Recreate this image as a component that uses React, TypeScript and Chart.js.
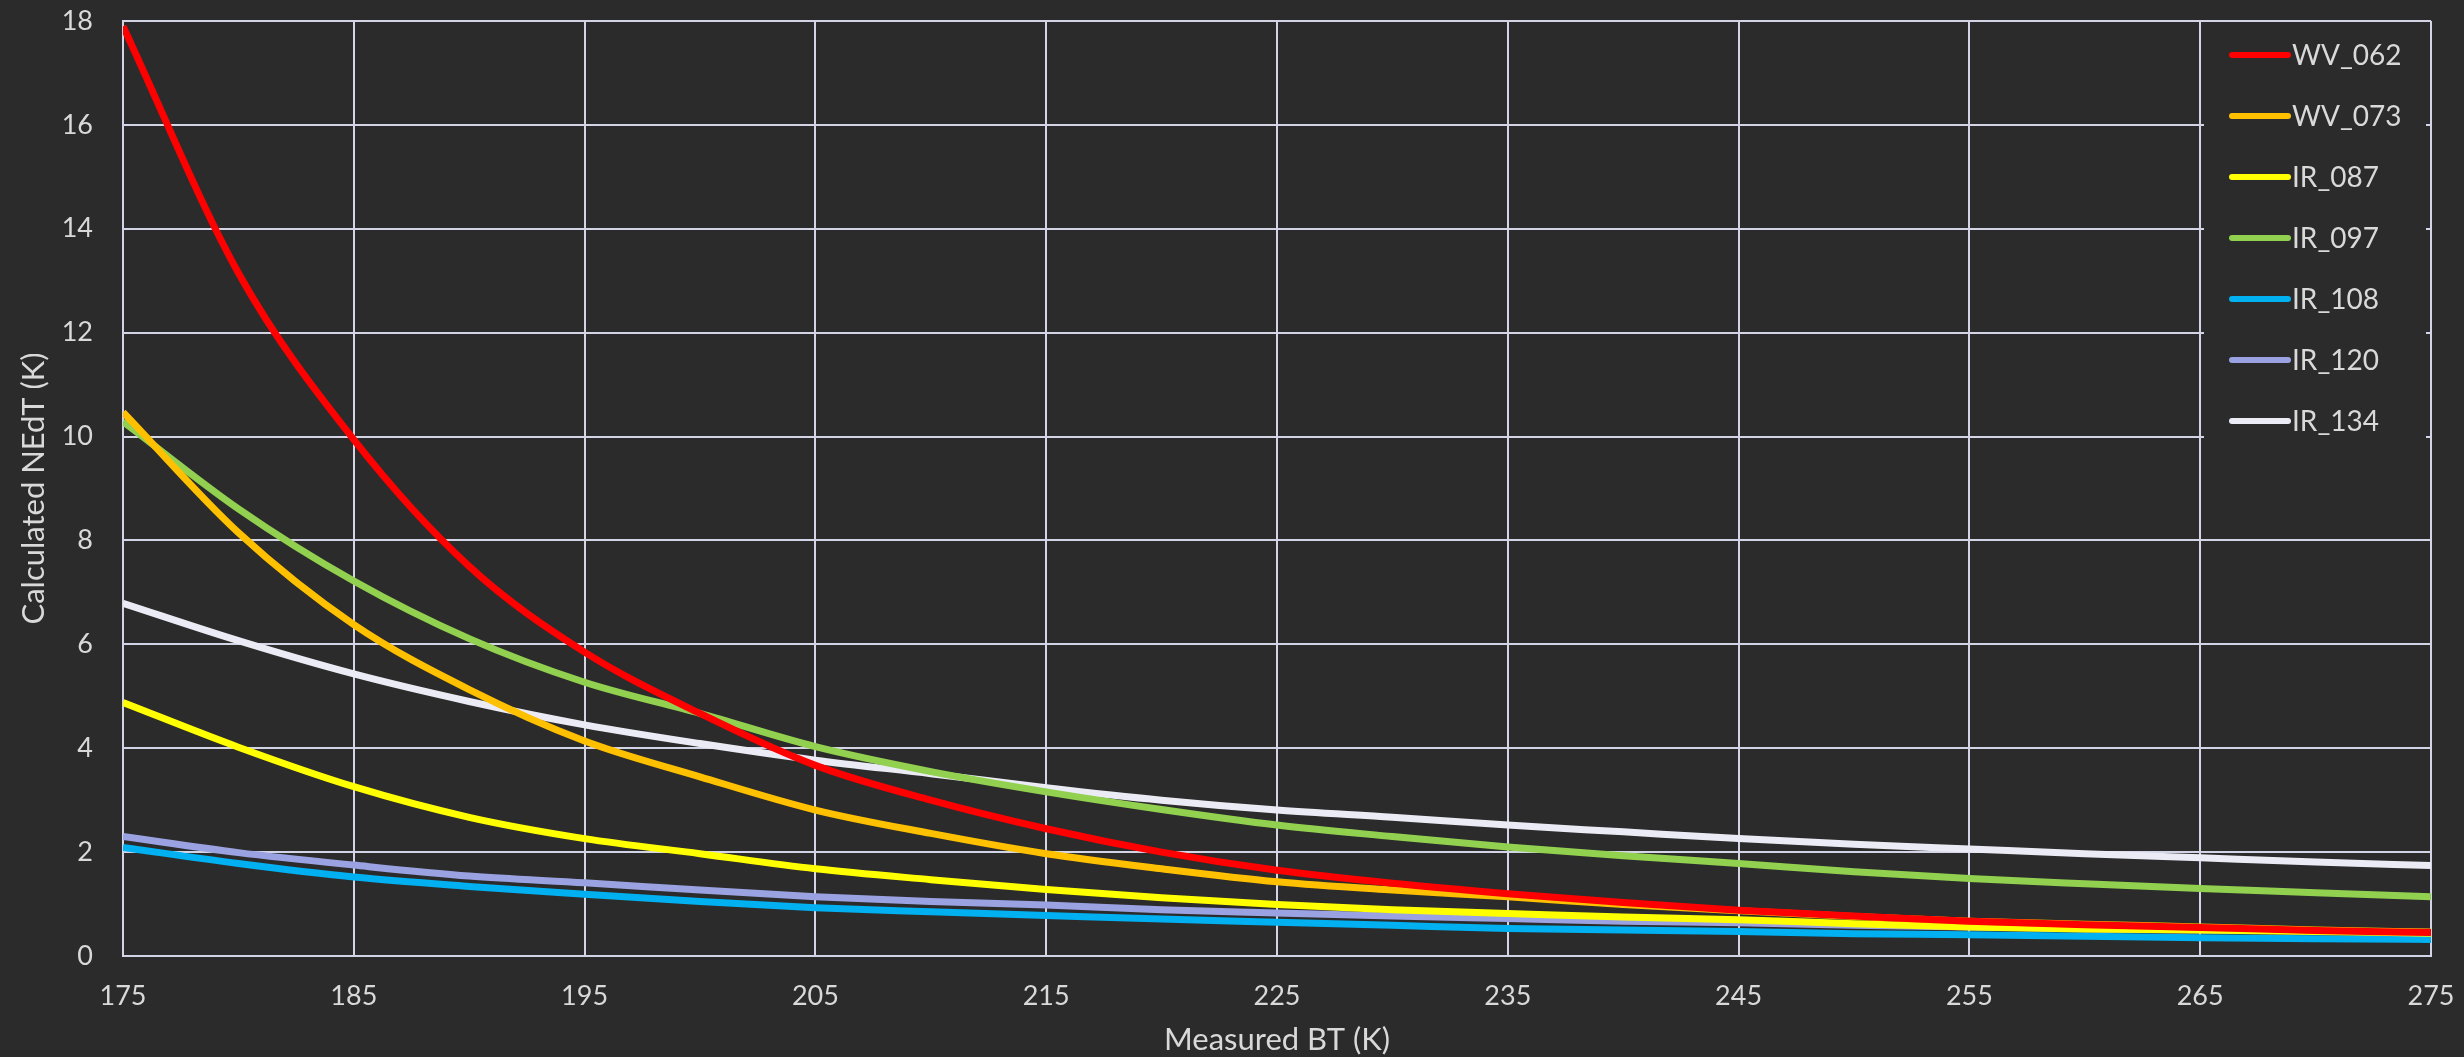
import React, { useEffect, useRef } from "react";
import { Chart, registerables } from "chart.js";

Chart.register(...registerables);

const temps = [175, 180, 185, 190, 195, 200, 205, 210, 215, 220, 225, 230, 235, 240, 245, 250, 255, 260, 265, 270, 275];
const wv062 = [17.9, 13.15, 9.94, 7.5, 5.85, 4.67, 3.67, 3.0, 2.45, 2.0, 1.65, 1.4, 1.2, 1.03, 0.88, 0.77, 0.67, 0.6, 0.55, 0.49, 0.45];
const wv073 = [10.47, 8.15, 6.38, 5.13, 4.14, 3.45, 2.81, 2.36, 1.97, 1.68, 1.43, 1.27, 1.14, 0.99, 0.87, 0.76, 0.67, 0.61, 0.56, 0.5, 0.46];
const ir087 = [4.88, 4.02, 3.26, 2.67, 2.26, 1.97, 1.68, 1.47, 1.28, 1.12, 0.99, 0.89, 0.82, 0.75, 0.7, 0.62, 0.56, 0.52, 0.5, 0.47, 0.44];
const ir097 = [10.29, 8.61, 7.22, 6.11, 5.27, 4.67, 4.03, 3.55, 3.16, 2.82, 2.52, 2.3, 2.1, 1.93, 1.78, 1.62, 1.49, 1.39, 1.3, 1.22, 1.14];
const ir108 = [2.09, 1.78, 1.52, 1.34, 1.19, 1.05, 0.93, 0.85, 0.78, 0.71, 0.65, 0.59, 0.53, 0.5, 0.47, 0.43, 0.41, 0.38, 0.35, 0.33, 0.32];
const ir120 = [2.3, 1.99, 1.75, 1.54, 1.41, 1.27, 1.14, 1.05, 0.98, 0.89, 0.83, 0.77, 0.72, 0.67, 0.64, 0.59, 0.56, 0.52, 0.5, 0.48, 0.45];
const ir134 = [6.79, 6.07, 5.43, 4.9, 4.45, 4.09, 3.77, 3.51, 3.24, 3.0, 2.81, 2.67, 2.52, 2.39, 2.26, 2.15, 2.06, 1.97, 1.89, 1.81, 1.74];

const seriesNames = ["WV_062", "WV_073", "IR_087", "IR_097", "IR_108", "IR_120", "IR_134"];
const seriesValues = [wv062, wv073, ir087, ir097, ir108, ir120, ir134];
const seriesColors = ["#ff0000", "#ffc000", "#ffff00", "#92d050", "#00b0f0", "#9aa2e2", "#ebebf5"];

const xTitle = "Measured BT (K)";
const yTitle = "Calculated NEdT (K)";

const BG = "#2b2b2b";
const GRID = "#d3d5e6";
const TEXT = "#d9d9d9";
const FONT = "Lato";

const legendPlugin = {
  id: "boxLegend",
  afterDraw(chart: any) {
    const ctx = chart.ctx;
    const area = chart.chartArea;
    const boxLeft = area.right - 227;
    const boxRight = area.right - 5;
    const boxTop = area.top + 2;
    const boxBottom = area.top + 440;
    ctx.save();
    ctx.fillStyle = BG;
    ctx.fillRect(boxLeft, boxTop, boxRight - boxLeft, boxBottom - boxTop);
    const datasets = chart.data.datasets;
    for (let i = 0; i < datasets.length; i++) {
      const y = area.top + 34 + i * 61;
      ctx.strokeStyle = datasets[i].borderColor;
      ctx.lineWidth = 6;
      ctx.lineCap = "round";
      ctx.beginPath();
      ctx.moveTo(area.right - 199, y);
      ctx.lineTo(area.right - 143, y);
      ctx.stroke();
      ctx.fillStyle = TEXT;
      ctx.font = `28px ${FONT}`;
      ctx.textAlign = "left";
      ctx.textBaseline = "middle";
      ctx.fillText(datasets[i].label, area.right - 139, y + 1);
    }
    ctx.restore();
  },
};

const bgPlugin = {
  id: "bgFill",
  beforeDraw(chart: any) {
    const ctx = chart.ctx;
    ctx.save();
    ctx.fillStyle = BG;
    ctx.fillRect(0, 0, chart.width, chart.height);
    ctx.restore();
  },
};

export default function App() {
  const canvasRef = useRef<HTMLCanvasElement | null>(null);

  useEffect(() => {
    document.body.style.margin = "0";
    document.body.style.background = BG;
    const canvas = canvasRef.current;
    if (!canvas) return;
    const chart = new Chart(canvas, {
      type: "line",
      data: {
        datasets: seriesNames.map((name, i) => ({
          label: name,
          data: temps.map((t, j) => ({ x: t, y: seriesValues[i][j] })),
          borderColor: seriesColors[i],
          backgroundColor: seriesColors[i],
          borderWidth: 7,
          pointRadius: 0,
          cubicInterpolationMode: "monotone" as const,
          fill: false,
        })),
      },
      options: {
        animation: false,
        responsive: false,
        maintainAspectRatio: false,
        layout: { padding: { left: 0, top: 21, right: 33, bottom: 0 } },
        plugins: {
          legend: { display: false },
          tooltip: { enabled: false },
        },
        scales: {
          x: {
            type: "linear",
            min: 175,
            max: 275,
            afterFit: (scale: any) => {
              scale.height = 101;
              scale.paddingLeft = 0;
              scale.paddingRight = 0;
            },
            ticks: {
              stepSize: 10,
              color: TEXT,
              font: { family: FONT, size: 27 },
              padding: 24,
              maxRotation: 0,
            },
            grid: { color: GRID, lineWidth: 2, drawTicks: false },
            border: { color: GRID, width: 2 },
            title: {
              display: true,
              text: xTitle,
              color: TEXT,
              font: { family: FONT, size: 31, lineHeight: 1.1 },
              padding: { top: 0, bottom: 0 },
            },
          },
          y: {
            type: "linear",
            min: 0,
            max: 18,
            afterFit: (scale: any) => {
              scale.width = 123;
              scale.paddingTop = 0;
              scale.paddingBottom = 0;
            },
            ticks: {
              stepSize: 2,
              color: TEXT,
              font: { family: FONT, size: 27 },
              padding: 30,
            },
            grid: { color: GRID, lineWidth: 2, drawTicks: false },
            border: { color: GRID, width: 2 },
            title: {
              display: true,
              text: yTitle,
              color: TEXT,
              font: { family: FONT, size: 31 },
              padding: { top: 15, bottom: 0 },
            },
          },
        },
      },
      plugins: [bgPlugin, legendPlugin],
    });
    return () => chart.destroy();
  }, []);

  return (
    <div style={{ width: 2464, height: 1057, background: BG }}>
      <canvas ref={canvasRef} width={2464} height={1057} style={{ display: "block" }} />
    </div>
  );
}
